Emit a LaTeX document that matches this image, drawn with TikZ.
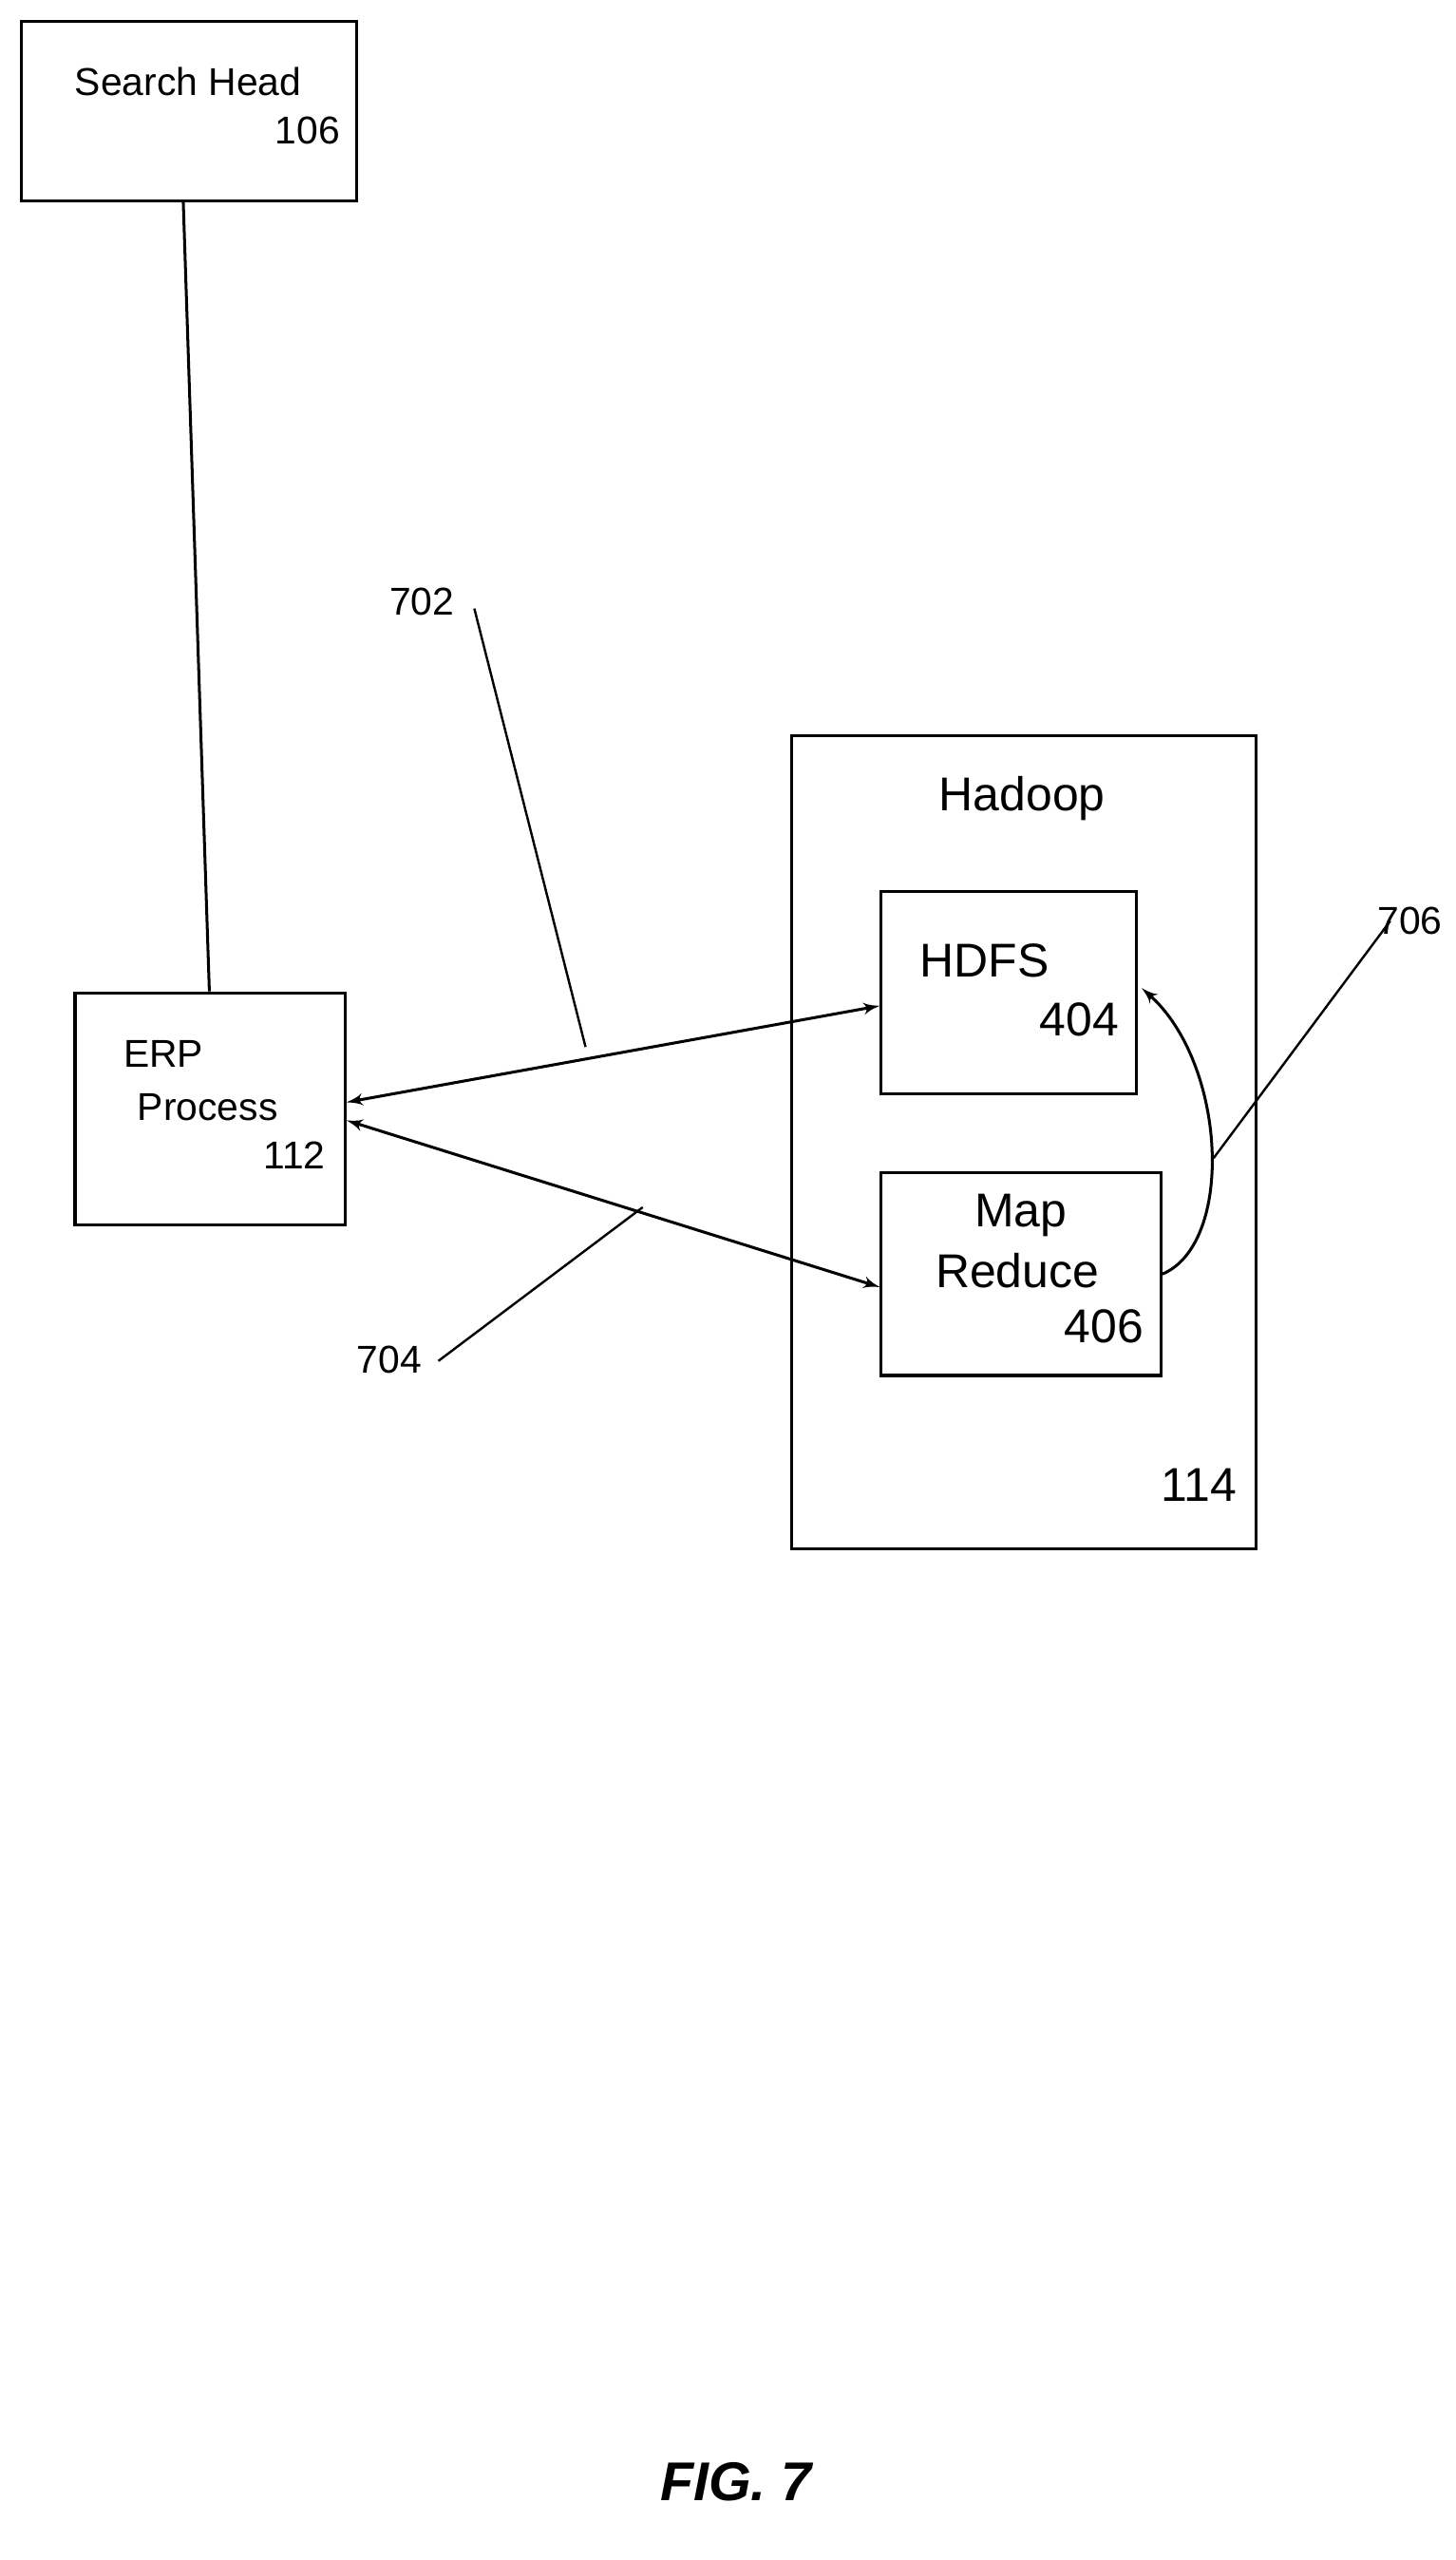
\documentclass[tikz,border=0pt]{standalone}
\usepackage{fontspec}
\setmainfont{Liberation Sans}
\usetikzlibrary{arrows}
\usetikzlibrary{positioning}

\tikzset{
  box/.style={draw, line width=1pt, anchor=north west, inner sep=0pt},
  txt/.style={font=\fontsize{13.5}{16}\selectfont, inner sep=0pt},
  big/.style={font=\fontsize{16.5}{19}\selectfont, inner sep=0pt},
  conn/.style={line width=1pt, >=latex', {<[scale=1.8]}-{>[scale=1.8]}},
  lead/.style={line width=0.8pt},
}

\begin{document}
\begin{tikzpicture}[x=0.02cm, y=-0.02cm]
    \useasboundingbox (0, 0) rectangle (890, 1565);

    % boxes
    \node [box, minimum width=4.1cm, minimum height=2.2cm] (head) at (12, 12) {};
    \node [box, minimum width=3.3cm, minimum height=2.84cm] (erp) at (45, 606) {};
    \node [box, minimum width=5.68cm, minimum height=9.94cm] (hadoop) at (483, 449) {};
    \node [box, minimum width=3.12cm, minimum height=2.48cm] (hdfs) at (538, 544) {};
    \node [box, minimum width=3.42cm, minimum height=2.48cm] (mr) at (538, 716) {};

    % texts
    \node [txt] (headname) at (115, 50) {Search Head};
    \node [txt] (headnum) at (188, 80) {106};
    \node [txt] (erpname) at (100, 644) {ERP};
    \node [txt] (erpproc) at (127, 677) {Process};
    \node [txt] (erpnum) at (180, 706) {112};
    \node [big] (hadoopname) at (625, 488) {Hadoop};
    \node [big] (hadoopnum) at (733, 908) {114};
    \node [big] (hdfsname) at (602, 587) {HDFS};
    \node [big] (hdfsnum) at (660, 623) {404};
    \node [big] (mrname) at (624, 743) {Map};
    \node [big] (mrname2) at (622, 777) {Reduce};
    \node [big] (mrnum) at (675, 811) {406};

    % connectors
    \draw [line width=1pt] (112, 122) -- (128, 606);
    \draw [conn] ([yshift=0.08cm]erp.east) -- ([yshift=-0.16cm]hdfs.west);
    \draw [conn] ([yshift=-0.14cm]erp.east) -- ([yshift=-0.16cm]mr.west);
    \draw [line width=1pt, >=latex', -{>[scale=1.8]}] (mr.east) .. controls (755, 760) and (750, 650) .. (698, 604);

    % reference numerals
    \node [txt] (n702) at (258, 368) {702};
    \node [txt] (n704) at (238, 831) {704};
    \node [txt] (n706) at (862, 563) {706};
    \coordinate (p702) at (358, 640);
    \coordinate (p704) at (393, 738);
    \coordinate (p706) at (742, 708);
    \draw [lead] (290, 372) -- (p702);
    \draw [lead] (268, 832) -- (p704);
    \draw [lead] (850, 563) -- (p706);

    \node [font=\fontsize{19}{22}\selectfont\bfseries\itshape] (fig) at (450, 1517) {FIG. 7};
\end{tikzpicture}
\end{document}
